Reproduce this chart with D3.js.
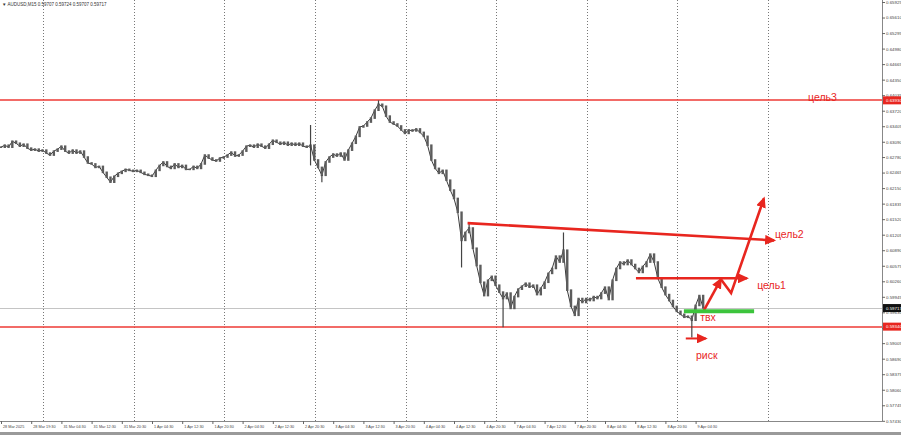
<!DOCTYPE html>
<html>
<head>
<meta charset="utf-8">
<script src="https://cdn.jsdelivr.net/npm/d3@7"></script>
<style>
  body { margin: 0; background: #fff; }
  svg { display: block; font-family: 'Liberation Sans', Arial, sans-serif; }
</style>
</head>
<body>
<svg id="chart" width="901" height="435"></svg>
<script>

// AUDUSD M15, one close per hour
var closes = [
  0.6298, 0.6302, 0.6298, 0.6310, 0.6306, 0.6300, 0.6304, 0.6296, 0.6292, 0.6294,
  0.6290, 0.6292, 0.6286, 0.6282, 0.6290, 0.6294, 0.6300, 0.6290, 0.6286, 0.6292,
  0.6286, 0.6290, 0.6278, 0.6266, 0.6264, 0.6257, 0.6259, 0.6247, 0.6237, 0.6227,
  0.6239, 0.6245, 0.6249, 0.6253, 0.6251, 0.6249, 0.6251, 0.6247, 0.6243, 0.6241,
  0.6239, 0.6251, 0.6261, 0.6268, 0.6259, 0.6255, 0.6264, 0.6257, 0.6261, 0.6253,
  0.6253, 0.6259, 0.6255, 0.6264, 0.6282, 0.6276, 0.6272, 0.6270, 0.6276, 0.6278,
  0.6282, 0.6288, 0.6280, 0.6282, 0.6290, 0.6300, 0.6302, 0.6298, 0.6304, 0.6300,
  0.6296, 0.6304, 0.6312, 0.6308, 0.6304, 0.6308, 0.6302, 0.6306, 0.6302, 0.6306,
  0.6300, 0.6298, 0.6302, 0.6272, 0.6257, 0.6241, 0.6268, 0.6278, 0.6284, 0.6280,
  0.6286, 0.6272, 0.6292, 0.6306, 0.6320, 0.6339, 0.6341, 0.6349, 0.6357, 0.6373,
  0.6385, 0.6381, 0.6361, 0.6349, 0.6345, 0.6341, 0.6333, 0.6326, 0.6333, 0.6331,
  0.6335, 0.6328, 0.6320, 0.6302, 0.6272, 0.6255, 0.6245, 0.6251, 0.6231, 0.6211,
  0.6194, 0.6166, 0.6109, 0.6125, 0.6134, 0.6093, 0.6058, 0.6024, 0.5997, 0.6028,
  0.6036, 0.6018, 0.6004, 0.5991, 0.6002, 0.5971, 0.5995, 0.6010, 0.6016, 0.6022,
  0.6014, 0.6018, 0.5999, 0.6012, 0.6024, 0.6042, 0.6052, 0.6077, 0.6065, 0.6089,
  0.6008, 0.5975, 0.5957, 0.5991, 0.5983, 0.5991, 0.5987, 0.5995, 0.5991, 0.6002,
  0.6014, 0.5989, 0.6028, 0.6052, 0.6065, 0.6060, 0.6069, 0.6060, 0.6052, 0.6044,
  0.6056, 0.6065, 0.6081, 0.6065, 0.6032, 0.6014, 0.5999, 0.5987, 0.5975, 0.5965,
  0.5959, 0.5953, 0.5955, 0.5947, 0.5977, 0.5997, 0.5972
];

// long shadows that stick out of the line
var wickBars   = [82, 82, 85, 100, 122, 124, 133, 149, 183];
var wickPrices = [0.6343, 0.6261, 0.6227, 0.6393, 0.6054, 0.6146, 0.5933, 0.6125, 0.5912];

var timeLabels = [
  '28 Mar 2025', '28 Mar 19:30', '31 Mar 04:30', '31 Mar 12:30', '31 Mar 20:30',
  '1 Apr 04:30', '1 Apr 12:30', '1 Apr 20:30', '2 Apr 04:30', '2 Apr 12:30',
  '2 Apr 20:30', '3 Apr 04:30', '3 Apr 12:30', '3 Apr 20:30', '4 Apr 04:30',
  '4 Apr 12:30', '4 Apr 20:30', '7 Apr 04:30', '7 Apr 12:30', '7 Apr 20:30',
  '8 Apr 04:30', '8 Apr 12:30', '8 Apr 20:30', '9 Apr 04:30'
];
var dayBreaks = [11.2, 35.2, 59.2, 83.2, 107.2, 131.2, 155.2, 179.2, 203.2];

var priceTicks = [
  0.65925, 0.65610, 0.65295, 0.64980, 0.64665, 0.64350, 0.64035, 0.63720, 0.63405,
  0.63090, 0.62780, 0.62465, 0.62150, 0.61835, 0.61520, 0.61205, 0.60890, 0.60575,
  0.60260, 0.59945, 0.59630, 0.59315, 0.59005, 0.58690, 0.58375, 0.58060, 0.57745, 0.57430
];

var levels = [0.63930, 0.59340];
var lastPrice = 0.59717;
var header = 'AUDUSD,M15  0.59707 0.59724 0.59707 0.59717';

// hand drawn marks, in bar / price
var trendBars = [123.6, 204.8], trendPrices = [0.6144, 0.6109];
var target1Bars = [168.2, 197.6], target1Price = 0.6032;
var entryBars = [180.9, 199.5], entryPrice = 0.5965;
var riskBars = [181.4, 186.7], riskPrice = 0.5910;
var moveBars = [186.2, 190.7], movePrices = [0.5967, 0.6030];
var move2Bars = [190.7, 193.4, 202.1], move2Prices = [0.6030, 0.6002, 0.6194];
var notes = [
  { text: 'цель3', bar: 213.8, price: 0.63930, dy: 1 },
  { text: 'цель2', bar: 205.0, price: 0.61132, dy: 0 },
  { text: 'цель1', bar: 200.3, price: 0.60096, dy: 0 },
  { text: 'твх',   bar: 185.2, price: 0.59446, dy: 0 },
  { text: 'риск',  bar: 184.1, price: 0.58674, dy: 0 }
];

var settings = { width: 901, height: 435, right: 882, bottom: 421, red: '#e8261f', green: '#3cc43c' };

var svg = d3.select('#chart');

var scaleX = d3.scaleLinear().domain([0, 234]).range([1, 1 + 234 * 3.775]);
var scaleY = d3.scaleLinear().domain([0.57430, 0.65925]).range([420.8, 2]);

// arrow heads
var defs = svg.append('defs');
defs.append('marker')
  .attr('id', 'head')
  .attr('markerUnits', 'userSpaceOnUse')
  .attr('markerWidth', 12).attr('markerHeight', 10)
  .attr('refX', 9).attr('refY', 5)
  .attr('orient', 'auto')
  .append('path')
  .attr('d', 'M0,0 L11,5 L0,10 Z')
  .attr('fill', settings.red);

// day separators
svg.append('g').selectAll('line')
  .data(dayBreaks)
  .enter()
  .append('line')
  .attr('x1', function(d) { return Math.round(scaleX(d)) + 0.5; })
  .attr('x2', function(d) { return Math.round(scaleX(d)) + 0.5; })
  .attr('y1', 0).attr('y2', settings.bottom)
  .attr('stroke', '#777')
  .attr('stroke-dasharray', '1,2');

// bid line and levels
svg.append('line')
  .attr('x1', 0).attr('x2', settings.right)
  .attr('y1', Math.round(scaleY(lastPrice)) + 0.5).attr('y2', Math.round(scaleY(lastPrice)) + 0.5)
  .attr('stroke', '#c4c4c4');

svg.append('g').selectAll('line')
  .data(levels)
  .enter()
  .append('line')
  .attr('x1', 0).attr('x2', settings.right)
  .attr('y1', function(d) { return Math.round(scaleY(d)); })
  .attr('y2', function(d) { return Math.round(scaleY(d)); })
  .attr('stroke', '#ee3a35')
  .attr('stroke-width', 1.4);

// price
var line = d3.line()
  .x(function(d, i) { return scaleX(i); })
  .y(function(d) { return scaleY(d); });

svg.append('path')
  .datum(closes)
  .attr('d', line)
  .attr('fill', 'none')
  .attr('stroke', '#3a3a3a')
  .attr('stroke-width', 1);

svg.append('g').selectAll('rect')
  .data(closes)
  .enter()
  .append('rect')
  .attr('x', function(d, i) { return scaleX(i) - 1.2; })
  .attr('width', 2.4)
  .attr('y', function(d, i) {
    var o = i > 0 ? closes[i - 1] : d;
    return scaleY(Math.max(o, d)) - 0.8;
  })
  .attr('height', function(d, i) {
    var o = i > 0 ? closes[i - 1] : d;
    return Math.abs(scaleY(o) - scaleY(d)) + 1.6;
  })
  .attr('fill', '#5c5c5c');

svg.append('g').selectAll('line')
  .data(wickBars)
  .enter()
  .append('line')
  .attr('x1', function(d) { return scaleX(d); })
  .attr('x2', function(d) { return scaleX(d); })
  .attr('y1', function(d) { return scaleY(closes[d]); })
  .attr('y2', function(d, i) { return scaleY(wickPrices[i]); })
  .attr('stroke', '#444')
  .attr('stroke-width', 1.2);

// annotations
function redLine(bars, prices, width, arrow) {
  var pts = bars.map(function(b, i) { return [scaleX(b), scaleY(prices[i])]; });
  svg.append('path')
    .attr('d', d3.line()(pts))
    .attr('fill', 'none')
    .attr('stroke', settings.red)
    .attr('stroke-width', width)
    .attr('stroke-linejoin', 'miter')
    .attr('marker-end', arrow ? 'url(#head)' : null);
}

redLine(trendBars, trendPrices, 2.6, true);
redLine(target1Bars, [target1Price, target1Price], 2.6, true);
redLine(moveBars, movePrices, 2.6, true);
redLine(move2Bars, move2Prices, 2.6, true);

svg.append('line')
  .attr('x1', scaleX(entryBars[0])).attr('x2', scaleX(entryBars[1]))
  .attr('y1', scaleY(entryPrice)).attr('y2', scaleY(entryPrice))
  .attr('stroke', settings.green)
  .attr('stroke-width', 4);

redLine(riskBars, [riskPrice, riskPrice], 2, true);

svg.append('g').selectAll('text')
  .data(notes)
  .enter()
  .append('text')
  .attr('x', function(d) { return scaleX(d.bar); })
  .attr('y', function(d) { return scaleY(d.price) + d.dy; })
  .attr('fill', settings.red)
  .attr('font-size', 10.5)
  .text(function(d) { return d.text; });

// axes
var axisY = d3.axisRight(scaleY)
  .tickValues(priceTicks)
  .tickSize(3)
  .tickFormat(function(d) { return d.toFixed(5); });

var groupY = svg.append('g')
  .attr('transform', 'translate(' + settings.right + ',0)')
  .call(axisY);
groupY.select('.domain').attr('stroke', '#888').attr('d', 'M0.5,0V' + settings.bottom);
groupY.selectAll('.tick line').attr('stroke', '#666');
groupY.selectAll('.tick text')
  .attr('x', 4)
  .attr('fill', '#444')
  .attr('font-size', 4.4);

var axisX = d3.axisBottom(scaleX)
  .tickValues(timeLabels.map(function(d, i) { return i * 8; }))
  .tickSize(3)
  .tickFormat(function(d) { return timeLabels[d / 8]; });

var groupX = svg.append('g')
  .attr('transform', 'translate(0,' + settings.bottom + ')')
  .call(axisX);
groupX.select('.domain').attr('stroke', '#888').attr('d', 'M0,0.5H' + (settings.right + 0.5));
groupX.selectAll('.tick line').attr('stroke', '#666');
groupX.selectAll('.tick text')
  .attr('text-anchor', 'start')
  .attr('x', 1.5)
  .attr('y', 4.5)
  .attr('dy', '0.71em')
  .attr('fill', '#444')
  .attr('font-size', 3.8);

// price tags on the scale
function tag(price, color) {
  var g = svg.append('g')
    .attr('transform', 'translate(' + (settings.right + 1) + ',' + scaleY(price) + ')');
  g.append('rect')
    .attr('x', 0).attr('y', -4)
    .attr('width', settings.width - settings.right).attr('height', 8)
    .attr('fill', color);
  g.append('text')
    .attr('x', 3).attr('y', 1.6)
    .attr('fill', '#fff')
    .attr('font-size', 4.4)
    .text(price.toFixed(5));
}
tag(levels[0], settings.red);
tag(levels[1], settings.red);
tag(lastPrice, '#111');

// header and bottom frame
svg.append('text')
  .attr('x', 2).attr('y', 6)
  .attr('fill', '#333')
  .attr('font-size', 4.5)
  .text('\u25BC ' + header);

svg.append('rect')
  .attr('x', 0).attr('y', 432)
  .attr('width', settings.width).attr('height', 3)
  .attr('fill', '#9a9a9a');

</script>
</body>
</html>
